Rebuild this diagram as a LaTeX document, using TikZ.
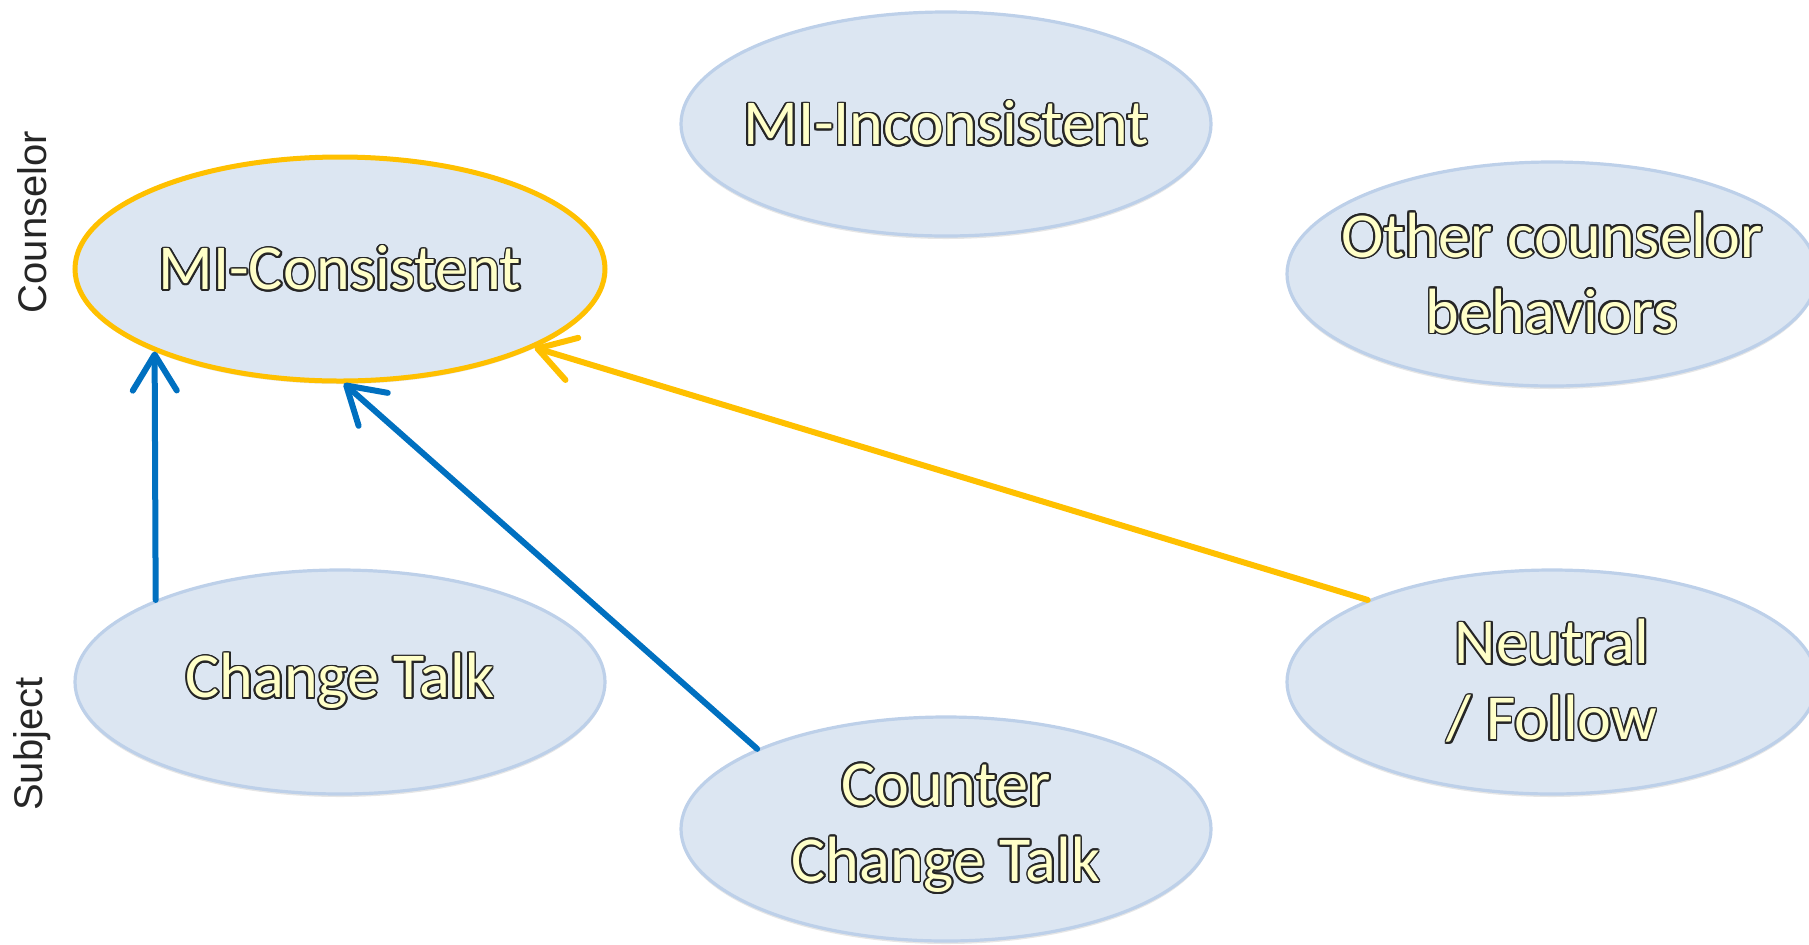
\documentclass[tikz,border=0pt]{standalone}
\usepackage{fontspec}
\setmainfont{Carlito}
\newfontfamily\sidefont{Liberation Sans}
\usepackage{contour}
\contourlength{0.9pt}
\usetikzlibrary{shapes.geometric,positioning,arrows.meta,shadows}
\definecolor{bubblefill}{HTML}{DCE6F2}
\definecolor{bubbleline}{HTML}{BDD0E9}
\definecolor{micblue}{HTML}{0070C0}
\definecolor{micgold}{HTML}{FFC000}
\definecolor{labelyellow}{HTML}{FFFFC8}
\newcommand{\outl}[1]{\makebox[0pt]{\contour{black!85}{\textcolor{labelyellow}{#1}}}}
\begin{document}
\begin{tikzpicture}[x=0.5pt, y=-0.5pt, node distance=303pt,
    behav/.style={ellipse, draw=bubbleline, fill=bubblefill, line width=1.6pt,
        minimum width=265pt, minimum height=112pt, inner sep=0pt, align=center,
        font=\fontsize{32}{38}\selectfont,
        drop shadow={opacity=0.2, shadow xshift=0pt, shadow yshift=-1.5pt}},
    side/.style={rotate=90, font=\sidefont\fontsize{20}{24}\selectfont, text=black!85},
    link/.style={line width=3pt, line cap=round,
        -{Straight Barb[length=18pt, width=22pt, line width=3pt, round]}}]
    \useasboundingbox (0,0) rectangle (1809,944);
    \clip (0,0) rectangle (1809,944);
    \node[behav, draw=micgold, line width=2.5pt] (mic) at (340,269) {\outl{MI-Consistent}};
    \node[behav] (mii) [right of=mic, yshift=72.5pt] {\outl{MI-Inconsistent}};
    \node[behav] (ocb) [right of=mii, yshift=-75pt] {\outl{Other counselor}\\\outl{behaviors}};
    \node[behav] (ct) [below of=mic, node distance=206.5pt] {\outl{Change Talk}};
    \node[behav] (cct) [right of=ct, yshift=-73.5pt] {\outl{Counter}\\\outl{Change Talk}};
    \node[behav] (nf) [right of=cct, yshift=73.5pt] {\outl{Neutral}\\\outl{/ Follow}};
    \node[side] (couns) at (32,222) {Counselor};
    \node[side] (subj) at (32,744) {Subject};
    \draw[link, micblue] (ct.156) -- (mic.204);
    \draw[link, micblue] (cct.157) -- (mic.272);
    \draw[link, micgold] (nf.156) -- (mic.338);
\end{tikzpicture}
\end{document}
